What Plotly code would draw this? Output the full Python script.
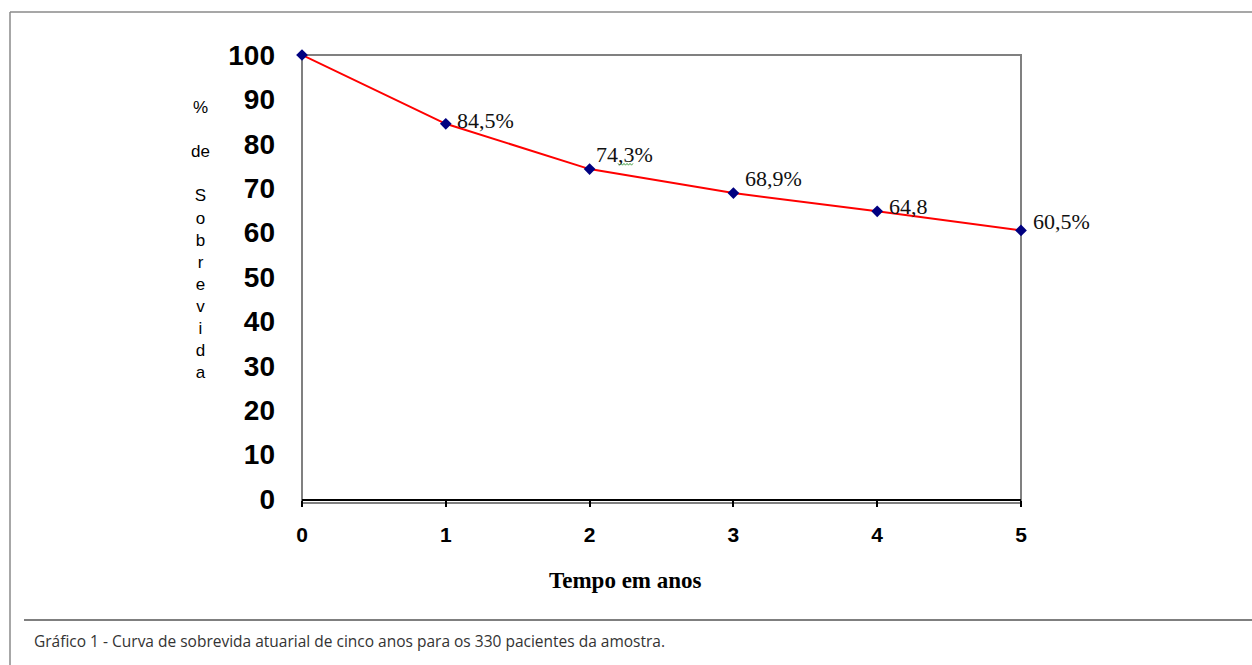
import plotly.graph_objects as go

# Actuarial survival curve, five-year follow-up
anos = [0, 1, 2, 3, 4, 5]
sobrevida = [100, 84.5, 74.3, 68.9, 64.8, 60.5]
rotulos = ["", "84,5%", "74,3%", "68,9%", "64,8", "60,5%"]
y_ticks = [0, 10, 20, 30, 40, 50, 60, 70, 80, 90, 100]
titulo_y = ["%", "", "de", "", "S", "o", "b", "r", "e", "v", "i", "d", "a"]
legenda = "Gráfico 1 - Curva de sobrevida atuarial de cinco anos para os 330 pacientes da amostra."

W, H = 1252, 665
L, R, T, B = 302, 1021, 55, 499  # plot area in pixels


def px(x):
    return (x - L) / (R - L)


def py(y):
    return (B - y) / (B - T)


fig = go.Figure()
fig.add_trace(go.Scatter(
    x=anos, y=sobrevida, mode="lines+markers",
    line=dict(color="#ff0000", width=2),
    marker=dict(symbol="diamond", size=9, color="#000080"),
    cliponaxis=False, hoverinfo="skip", showlegend=False,
))

annotations = []
offsets = {1: (9, 3), 2: (4, 15), 3: (10, 15), 4: (10, 5), 5: (10, 9)}
for xv, yv, t in zip(anos, sobrevida, rotulos):
    if not t:
        continue
    dx, dy = offsets[xv]
    annotations.append(dict(
        x=xv, y=yv, xref="x", yref="y", text=t, showarrow=False,
        xanchor="left", yanchor="middle", xshift=dx, yshift=dy,
        font=dict(family="Liberation Serif", size=22, color="#111111"),
    ))

# stacked vertical y-axis title
annotations.append(dict(
    x=px(200), y=py(239.5), xref="paper", yref="paper",
    text="<br>".join(titulo_y), showarrow=False, align="center",
    xanchor="center", yanchor="middle",
    font=dict(family="Liberation Sans", size=17, color="#000000"),
))
# x-axis title
annotations.append(dict(
    x=px(625), y=py(580), xref="paper", yref="paper",
    text="<b>Tempo em anos</b>", showarrow=False,
    xanchor="center", yanchor="middle",
    font=dict(family="Liberation Serif", size=23, color="#000000"),
))
# caption
annotations.append(dict(
    x=px(32), y=py(641), xref="paper", yref="paper",
    text=legenda, showarrow=False, xanchor="left", yanchor="middle",
    font=dict(family="Open Sans", size=15.5, color="#333333"),
))

# small wavy underline beneath ",3" of the second label
wave_x = [618 + 1.5 * i for i in range(11)]
wave = "M " + " L ".join(
    f"{px(xx):.5f},{py(164 + (1.2 if i % 2 else -0.6)):.5f}" for i, xx in enumerate(wave_x)
)

shapes = [
    # plot area border
    dict(type="rect", xref="paper", yref="paper",
         x0=0, x1=1, y0=py(503), y1=1,
         line=dict(color="#808080", width=2), layer="below"),
    # outer frame (top and left)
    dict(type="line", xref="paper", yref="paper",
         x0=px(10), x1=px(1252), y0=py(12), y1=py(12),
         line=dict(color="#8a8a8a", width=1.5)),
    dict(type="line", xref="paper", yref="paper",
         x0=px(10), x1=px(10), y0=py(12), y1=py(665),
         line=dict(color="#8a8a8a", width=1.5)),
    # caption separator
    dict(type="line", xref="paper", yref="paper",
         x0=px(24), x1=px(1252), y0=py(620), y1=py(620),
         line=dict(color="#555555", width=1.5)),
    dict(type="path", xref="paper", yref="paper", path=wave,
         line=dict(color="#4aa04a", width=1)),
]

fig.update_layout(
    width=W, height=H,
    margin=dict(l=L, r=W - R, t=T, b=H - B, pad=0),
    paper_bgcolor="white", plot_bgcolor="white",
    annotations=annotations, shapes=shapes,
    xaxis=dict(
        range=[0, 5], tickvals=anos, ticktext=[str(a) for a in anos],
        showgrid=False, zeroline=False, showline=True,
        linecolor="#000000", linewidth=2,
        ticks="outside", ticklen=6, tickwidth=2, tickcolor="#000000",
        ticklabelstandoff=10,
        tickfont=dict(family="Liberation Sans", size=21, color="#000000", weight="bold"),
    ),
    yaxis=dict(
        range=[0, 100], tickvals=y_ticks, ticktext=[str(v) for v in y_ticks],
        showgrid=False, zeroline=False, showline=False, ticks="",
        ticklabelstandoff=26,
        tickfont=dict(family="Liberation Sans", size=28, color="#000000", weight="bold"),
    ),
)

fig.write_html("out.html")
